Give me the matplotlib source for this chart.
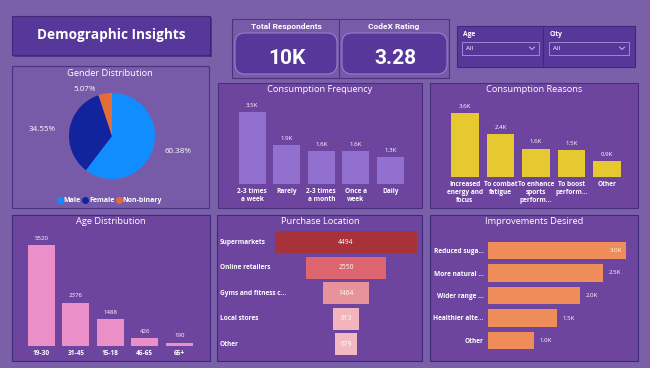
import matplotlib
matplotlib.use('Agg')
import matplotlib.pyplot as plt
import matplotlib.transforms as mtransforms
from matplotlib.patches import FancyBboxPatch
from matplotlib.lines import Line2D

W, H = 650, 368

# ---------------------------------------------------------
# Data
# ---------------------------------------------------------
total_respondents = "10K"
codex_rating = 3.28

gender_labels = ['Male', 'Female', 'Non-binary']
gender_pct = [60.38, 34.55, 5.07]

freq_labels = ['2-3 times\na week', 'Rarely', '2-3 times\na month', 'Once a\nweek', 'Daily']
freq_values = [3.5, 1.9, 1.6, 1.6, 1.3]          # thousands

reason_labels = ['Increased\nenergy and\nfocus', 'To combat\nfatigue', 'To enhance\nsports\nperform...',
                 'To boost\nperform...', 'Other']
reason_values = [3.6, 2.4, 1.6, 1.5, 0.9]        # thousands

age_labels = ['19-30', '31-45', '15-18', '46-65', '65+']
age_values = [5520, 2376, 1488, 426, 190]

loc_labels = ['Supermarkets', 'Online retailers', 'Gyms and fitness c...', 'Local stores', 'Other']
loc_values = [4494, 2550, 1464, 813, 679]

impr_labels = ['Reduced suga...', 'More natural ...', 'Wider range ...', 'Healthier alte...', 'Other']
impr_values = [3.0, 2.5, 2.0, 1.5, 1.0]          # thousands

# ---------------------------------------------------------
# Colours / fonts
# ---------------------------------------------------------
BG = '#7a60a9'
PANEL = '#6d459f'
PANEL_LIGHT = '#775ba8'
DARK_BOX = '#57389a'
EDGE = '#4a2f80'
FONT = 'Open Sans'
LABEL_FS = 4.7
VALUE_FS = 4.4

plt.rcParams['font.family'] = [FONT, 'DejaVu Sans']

fig = plt.figure(figsize=(W / 100, H / 100), dpi=100)
fig.patch.set_facecolor(BG)

base = fig.add_axes([0, 0, 1, 1])
base.set_xlim(0, W)
base.set_ylim(H, 0)
base.axis('off')


def rect(x, y, w, h):
    return [x / W, 1 - (y + h) / H, w / W, h / H]


def box(x, y, w, h, fc, ec=EDGE, lw=0.8, r=0, z=1):
    style = 'square,pad=0' if r == 0 else f'round,pad=0,rounding_size={r}'
    base.add_patch(FancyBboxPatch((x, y), w, h, boxstyle=style, fc=fc, ec=ec, lw=lw, zorder=z))


def title(x, y, s):
    base.text(x, y, s, ha='center', va='center', color='white', fontsize=6.7, zorder=5)


def clean(ax):
    ax.patch.set_alpha(0)
    for s in ax.spines.values():
        s.set_visible(False)


# ---------------------------------------------------------
# Header: title, KPI cards, slicers
# ---------------------------------------------------------
box(14, 18, 198, 39, '#4d3388', ec='none', z=1)
box(12, 16, 198, 39, DARK_BOX, ec='#3f2878', z=2)
base.text(111, 35.5, 'Demographic Insights', ha='center', va='center', color='white',
          fontsize=9.8, fontweight='bold', zorder=3)

box(232, 19, 217, 59, PANEL_LIGHT, ec='#4a3380', lw=0.8)
base.plot([339, 339], [19, 78], color='#4a3380', lw=0.8, zorder=2)
box(235, 33, 102, 41, DARK_BOX, ec='#9c86cc', lw=0.7, r=10, z=2)
box(342, 33, 105, 41, DARK_BOX, ec='#9c86cc', lw=0.7, r=10, z=2)
base.text(286, 26, 'Total Respondents', ha='center', va='center', color='white',
          fontsize=6, fontweight='bold', family='Roboto', zorder=3)
base.text(394, 26, 'CodeX Rating', ha='center', va='center', color='white',
          fontsize=6, fontweight='bold', family='Roboto', zorder=3)
base.text(287, 58, total_respondents, ha='center', va='center', color='white',
          fontsize=15, fontweight='bold', family='Roboto', zorder=3)
base.text(395, 58, f'{codex_rating:.2f}', ha='center', va='center', color='white',
          fontsize=15, fontweight='bold', family='Roboto', zorder=3)

box(457, 26, 178, 41, DARK_BOX, ec='#3f2878', lw=0.8)
base.plot([543, 543], [26, 67], color='#3f2878', lw=0.8, zorder=2)
for sx, name in [(462, 'Age'), (549, 'City')]:
    base.text(sx + 1, 34, name, ha='left', va='center', color='white', fontsize=4.8,
              fontweight='bold', zorder=3)
    box(sx, 42, 77 if name == 'Age' else 80, 13, 'none', ec='#a896d6', lw=0.6, z=3)
    base.text(sx + 4, 48.8, 'All', ha='left', va='center', color='white', fontsize=4.5, zorder=3)
    cx = sx + (70 if name == 'Age' else 73)
    base.add_line(Line2D([cx - 2.5, cx, cx + 2.5], [47, 49.5, 47], color='#d8d0f0', lw=0.6, zorder=3))

# ---------------------------------------------------------
# Panels
# ---------------------------------------------------------
box(12, 66, 197, 142, PANEL_LIGHT, ec='#4a3080')
box(218, 83, 204, 125, PANEL)
box(430, 83, 208, 125, PANEL)
box(12, 215, 198, 146, PANEL, ec='#3f2878')
box(217, 215, 205, 146, PANEL, ec='#3f2878')
box(430, 215, 208, 146, PANEL, ec='#3f2878')

title(110, 73, 'Gender Distribution')
title(320, 90, 'Consumption Frequency')
title(534, 90, 'Consumption Reasons')
title(111, 221, 'Age Distribution')
title(320, 221, 'Purchase Location')
title(534, 221, 'Improvements Desired')

# ---------------------------------------------------------
# Gender pie
# ---------------------------------------------------------
gender_colors = ['#118dff', '#12239e', '#e66c37']
ax = fig.add_axes(rect(69, 93, 86, 86))
ax.pie(gender_pct, colors=gender_colors, startangle=90, counterclock=False, radius=1,
       wedgeprops=dict(linewidth=0))
ax.set_xlim(-1, 1)
ax.set_ylim(-1, 1)
ax.set_aspect('equal')
label_pos = [(1.53, -0.37), (-1.63, 0.14), (-0.63, 1.07)]
for (lx, ly), v in zip(label_pos, gender_pct):
    ax.text(lx, ly, f'{v:.2f}%', ha='center', va='center', color='white', fontsize=5.8)

handles = [Line2D([], [], marker='o', ls='', color=c, markersize=4) for c in gender_colors]
fig.legend(handles, gender_labels, loc='center', bbox_to_anchor=(110 / W, 1 - 201 / H), ncol=3,
           frameon=False, handlelength=0.6, handletextpad=0.2, columnspacing=0.4,
           labelcolor='white', prop=dict(size=5.0, weight='bold'))


# ---------------------------------------------------------
# Vertical bar charts
# ---------------------------------------------------------
def vbars(px, values, labels, color, fmt, ymax):
    ax = fig.add_axes(rect(*px))
    clean(ax)
    xs = list(range(len(values)))
    ax.bar(xs, values, width=0.78, color=color)
    ax.set_xlim(-0.5, len(values) - 0.5)
    ax.set_ylim(0, ymax)
    ax.set_yticks([])
    ax.set_xticks(xs)
    ax.set_xticklabels(labels, fontsize=LABEL_FS, fontweight='bold', color='white', linespacing=1.2)
    ax.tick_params(axis='x', length=0, pad=3)
    for x, v in zip(xs, values):
        ax.annotate(fmt(v), (x, v), xytext=(0, 3), textcoords='offset points', ha='center',
                    va='bottom', fontsize=VALUE_FS, color='white')
    return ax


vbars((235, 100, 172.5, 84), freq_values, freq_labels, '#9270d0',
      lambda v: f'{v:.1f}K', max(freq_values) * 84 / 72)
vbars((447, 100, 178, 77), reason_values, reason_labels, '#e6c830',
      lambda v: f'{v:.1f}K', max(reason_values) * 77 / 64)
vbars((24, 232, 172.5, 114), age_values, age_labels, '#ea8fc8',
      lambda v: f'{v}', max(age_values) * 114 / 101)

# ---------------------------------------------------------
# Purchase location funnel
# ---------------------------------------------------------
loc_colors = ['#a8323a', '#de6670', '#e8939b', '#f2b4bd', '#f2b9c2']
ax = fig.add_axes(rect(275, 229.25, 142, 128))
clean(ax)
ys = list(range(len(loc_values)))
half = max(loc_values) / 2
ax.barh(ys, loc_values, left=[-v / 2 for v in loc_values], height=0.86, color=loc_colors)
ax.set_xlim(-half, half)
ax.set_ylim(len(loc_values) - 0.5, -0.5)
ax.set_xticks([])
ax.set_yticks([])
lab_tr = mtransforms.blended_transform_factory(fig.transFigure, ax.transData)
for y, v, lab in zip(ys, loc_values, loc_labels):
    ax.text(0, y, f'{v}', ha='center', va='center', color='white', fontsize=4.8)
    ax.text(220 / W, y, lab, transform=lab_tr, ha='left', va='center', color='white',
            fontsize=LABEL_FS, fontweight='bold')

# ---------------------------------------------------------
# Improvements desired
# ---------------------------------------------------------
ax = fig.add_axes(rect(488, 239.25, 138, 112.5))
clean(ax)
ys = list(range(len(impr_values)))
ax.barh(ys, impr_values, height=0.76, color='#ee8c5a')
ax.set_xlim(0, max(impr_values))
ax.set_ylim(len(impr_values) - 0.5, -0.5)
ax.set_xticks([])
ax.set_yticks(ys)
ax.set_yticklabels(impr_labels, fontsize=LABEL_FS, fontweight='bold', color='white')
ax.tick_params(axis='y', length=0, pad=3)
for y, v in zip(ys, impr_values):
    if v == max(impr_values):
        ax.annotate(f'{v:.1f}K', (v, y), xytext=(-3, 0), textcoords='offset points',
                    ha='right', va='center', color='white', fontsize=VALUE_FS)
    else:
        ax.annotate(f'{v:.1f}K', (v, y), xytext=(4, 0), textcoords='offset points',
                    ha='left', va='center', color='white', fontsize=VALUE_FS)

fig.savefig('out.png', dpi=100, facecolor=fig.get_facecolor())
